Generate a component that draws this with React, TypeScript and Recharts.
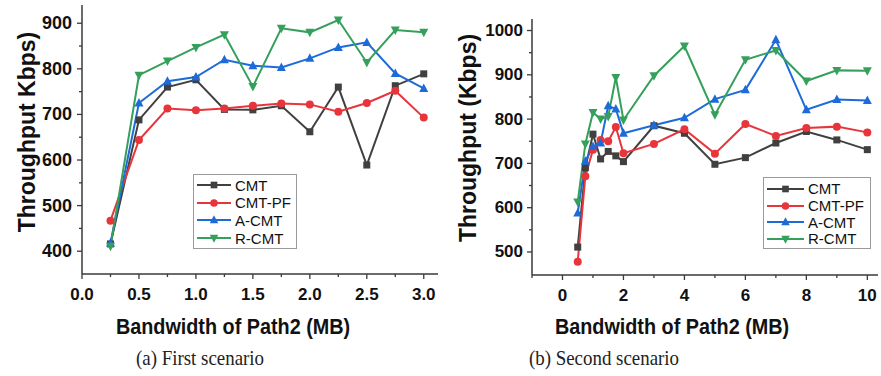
import React from 'react';
import { LineChart, Line, XAxis, YAxis, Legend, Label } from 'recharts';

// ---------- Data: (a) First scenario ----------
const xA = [0.25, 0.5, 0.75, 1.0, 1.25, 1.5, 1.75, 2.0, 2.25, 2.5, 2.75, 3.0];
const cmtA = [416, 688, 760, 776, 711, 710, 719, 662, 760, 589, 763, 789];
const cmtPfA = [467, 644, 713, 709, 713, 719, 724, 722, 706, 725, 752, 693];
const aCmtA = [418, 725, 773, 782, 820, 807, 803, 823, 847, 858, 790, 757];
const rCmtA = [411, 786, 817, 847, 875, 761, 889, 880, 907, 814, 885, 880];
const xTicksA = [0, 0.25, 0.5, 0.75, 1.0, 1.25, 1.5, 1.75, 2.0, 2.25, 2.5, 2.75, 3.0];
const yTicksA = [400, 450, 500, 550, 600, 650, 700, 750, 800, 850, 900];

// ---------- Data: (b) Second scenario ----------
const xB = [0.5, 0.75, 1, 1.25, 1.5, 1.75, 2, 3, 4, 5, 6, 7, 8, 9, 10];
const cmtB = [511, 690, 766, 710, 727, 717, 704, 785, 768, 698, 713, 746, 772, 753, 731];
const cmtPfB = [478, 671, 731, 753, 750, 782, 723, 744, 777, 722, 789, 762, 780, 783, 770];
const aCmtB = [588, 705, 738, 746, 830, 823, 768, 786, 803, 845, 866, 979, 821, 844, 842];
const rCmtB = [613, 744, 815, 800, 806, 894, 798, 898, 965, 810, 934, 955, 886, 910, 909];
const xTicksB = [-1, 0, 1, 2, 3, 4, 5, 6, 7, 8, 9, 10];
const yTicksB = [500, 550, 600, 650, 700, 750, 800, 850, 900, 950, 1000];

const seriesNames = ['CMT', 'CMT-PF', 'A-CMT', 'R-CMT'];
const seriesKeys = ['cmt', 'cmtPf', 'aCmt', 'rCmt'];
const seriesColors = ['#404040', '#e8353b', '#1d6bd8', '#35a05b'];
const seriesShapes = ['square', 'circle', 'up', 'down'];

const dataA = xA.map((x, i) => ({ x, cmt: cmtA[i], cmtPf: cmtPfA[i], aCmt: aCmtA[i], rCmt: rCmtA[i] }));
const dataB = xB.map((x, i) => ({ x, cmt: cmtB[i], cmtPf: cmtPfB[i], aCmt: aCmtB[i], rCmt: rCmtB[i] }));

const SANS = '"Liberation Sans", Arial, sans-serif';
const SERIF = '"Liberation Serif", "Times New Roman", serif';
const AXIS = '#3a3a3a';

function Marker({ shape, cx, cy, color, s = 1 }: any) {
  if (shape === 'square') return <rect x={cx - 3.5 * s} y={cy - 3.5 * s} width={7 * s} height={7 * s} fill={color} />;
  if (shape === 'circle') return <circle cx={cx} cy={cy} r={4 * s} fill={color} />;
  if (shape === 'up')
    return <polygon points={`${cx},${cy - 5 * s} ${cx - 4.5 * s},${cy + 3.5 * s} ${cx + 4.5 * s},${cy + 3.5 * s}`} fill={color} />;
  return <polygon points={`${cx},${cy + 5 * s} ${cx - 4.5 * s},${cy - 3.5 * s} ${cx + 4.5 * s},${cy - 3.5 * s}`} fill={color} />;
}

const makeDot = (shape: string, color: string) => (props: any) => {
  const { cx, cy, index } = props;
  if (cx == null || cy == null) return <g key={`d${index}`} />;
  return (
    <g key={`d${index}`}>
      <Marker shape={shape} cx={cx} cy={cy} color={color} />
    </g>
  );
};

const makeYTick = (fs: number, gap: number) => (props: any) => {
  const { x, y, payload } = props;
  const v = payload.value;
  const major = v % 100 === 0;
  return (
    <g>
      <line x1={x} x2={x - (major ? 5 : 3)} y1={y} y2={y} stroke={AXIS} strokeWidth={1.3} />
      {major && (
        <text x={x - gap} y={y} textAnchor="end" dominantBaseline="central"
          style={{ fontFamily: SANS, fontWeight: 700, fontSize: fs, fill: '#111' }}>{v}</text>
      )}
    </g>
  );
};

const makeXTick = (fs: number, isMajor: (v: number) => boolean, fmt: (v: number) => string) => (props: any) => {
  const { x, y, payload } = props;
  const v = payload.value;
  const major = isMajor(v);
  return (
    <g>
      <line x1={x} x2={x} y1={y} y2={y + (major ? 5 : 3)} stroke={AXIS} strokeWidth={1.3} />
      {major && (
        <text x={x} y={y + 20} textAnchor="middle" dominantBaseline="central"
          style={{ fontFamily: SANS, fontWeight: 700, fontSize: fs, fill: '#111' }}>{fmt(v)}</text>
      )}
    </g>
  );
};

const LegendBox = ({ rowH, padTop, lineW, width }: any) => () => (
  <div style={{ border: '1px solid #9a9a9a', background: '#fff', width, boxSizing: 'border-box', paddingTop: padTop, paddingBottom: 1 }}>
    {seriesNames.map((n, i) => (
      <div key={n} style={{ display: 'flex', alignItems: 'center', height: rowH }}>
        <svg width={lineW + 2} height={12} style={{ marginLeft: 2 }}>
          <line x1={1} x2={lineW + 1} y1={6} y2={6} stroke={seriesColors[i]} strokeWidth={2} />
          <Marker shape={seriesShapes[i]} cx={lineW / 2 + 1} cy={6} color={seriesColors[i]} s={0.95} />
        </svg>
        <span style={{ fontFamily: SANS, fontSize: 15, color: '#111', marginLeft: 3, lineHeight: 1 }}>{n}</span>
      </div>
    ))}
  </div>
);

const axisTitle = (cx: number, cy: number, text: string, fs: number, rotate: boolean, sx = 1) => () => (
  <text x={0} y={0}
    transform={rotate ? `translate(${cx} ${cy}) rotate(-90) scale(${sx} 1)` : `translate(${cx} ${cy}) scale(${sx} 1)`}
    textAnchor="middle" dominantBaseline="central"
    style={{ fontFamily: SANS, fontWeight: 700, fontSize: fs, fill: '#111' }}>{text}</text>
);

export default function App() {
  const lines = () =>
    seriesKeys.map((k, i) => (
      <Line key={k} type="linear" dataKey={k} name={seriesNames[i]} stroke={seriesColors[i]} strokeWidth={2}
        dot={makeDot(seriesShapes[i], seriesColors[i])} activeDot={false} isAnimationActive={false} />
    ));
  const caption = { position: 'absolute' as const, width: 400, top: 346, textAlign: 'center' as const, fontFamily: SERIF, fontSize: 21, color: '#222', transform: 'scaleX(0.9)', transformOrigin: 'center' };
  return (
    <div style={{ position: 'fixed', left: 0, top: 0, width: 881, height: 376, background: '#fff', overflow: 'hidden' }}>
      <div style={{ position: 'absolute', left: 0, top: 0 }}>
        <LineChart width={440} height={376} data={dataA} margin={{ top: 5, right: 2, bottom: 72, left: 0 }}>
          <XAxis dataKey="x" type="number" domain={[0, 3.125]} ticks={xTicksA} interval={0} allowDataOverflow
            height={30} tickSize={0} tickMargin={0} tickLine={false} axisLine={{ stroke: AXIS, strokeWidth: 1.5 }}
            tick={makeXTick(17, (v) => Math.abs(v * 2 - Math.round(v * 2)) < 1e-6, (v) => v.toFixed(1))}>
            <Label content={axisTitle(233, 326, 'Bandwidth of Path2 (MB)', 22.5, false, 0.88)} />
          </XAxis>
          <YAxis type="number" domain={[350, 940]} ticks={yTicksA} interval={0} allowDataOverflow width={82}
            tickSize={0} tickMargin={0} tickLine={false} axisLine={{ stroke: AXIS, strokeWidth: 1.5 }}
            tick={makeYTick(18, 10)}>
            <Label content={axisTitle(27, 132, 'Throughput Kbps)', 23, true)} />
          </YAxis>
          <Legend layout="vertical" align="center" verticalAlign="middle"
            wrapperStyle={{ left: 193, top: 174, width: 104, height: 74 }}
            content={LegendBox({ rowH: 17.6, padTop: 1.5, lineW: 34, width: 104 })} />
          {lines()}
        </LineChart>
      </div>
      <div style={{ position: 'absolute', left: 440, top: 0 }}>
        <LineChart width={441} height={376} data={dataB} margin={{ top: 19, right: 3, bottom: 71, left: 0 }}>
          <XAxis dataKey="x" type="number" domain={[-1, 10.35]} ticks={xTicksB} interval={0} allowDataOverflow
            height={30} tickSize={0} tickMargin={0} tickLine={false} axisLine={{ stroke: AXIS, strokeWidth: 1.5 }}
            tick={makeXTick(17, (v) => v % 2 === 0, (v) => String(v))}>
            <Label content={axisTitle(232, 326, 'Bandwidth of Path2 (MB)', 22.5, false, 0.88)} />
          </XAxis>
          <YAxis type="number" domain={[448, 1026]} ticks={yTicksB} interval={0} allowDataOverflow width={92}
            tickSize={0} tickMargin={0} tickLine={false} axisLine={{ stroke: AXIS, strokeWidth: 1.5 }}
            tick={makeYTick(17, 9)}>
            <Label content={axisTitle(28, 138, 'Throughput (Kbps)', 23, true)} />
          </YAxis>
          <Legend layout="vertical" align="center" verticalAlign="middle"
            wrapperStyle={{ left: 323, top: 177, width: 108, height: 72 }}
            content={LegendBox({ rowH: 16.7, padTop: 2.5, lineW: 37, width: 108 })} />
          {lines()}
        </LineChart>
      </div>
      <div style={{ ...caption, left: 0 }}>(a) First scenario</div>
      <div style={{ ...caption, left: 404 }}>(b) Second scenario</div>
    </div>
  );
}
